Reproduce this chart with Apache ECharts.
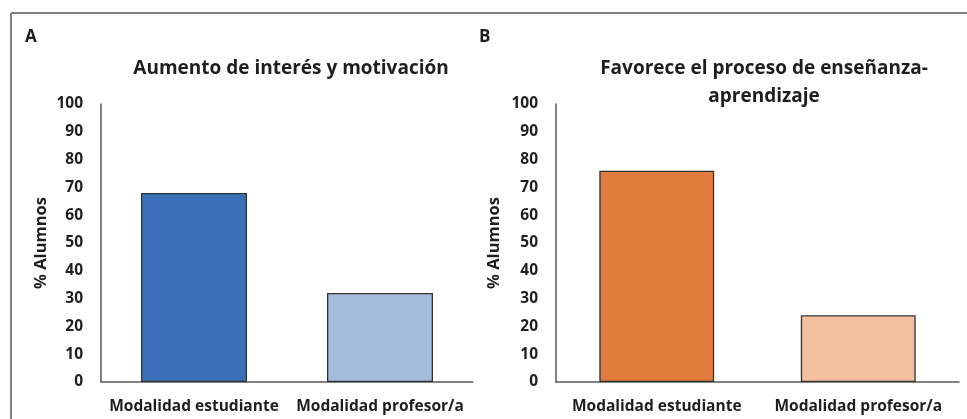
<!DOCTYPE html>
<html>
<head>
<meta charset="utf-8">
<script src="https://cdn.jsdelivr.net/npm/echarts@6/dist/echarts.min.js"></script>
<style>
html,body{margin:0;padding:0;background:#fff;}
#c{width:967px;height:419px;}
</style>
</head>
<body>
<div id="c"></div>
<script>
var categories = ['Modalidad estudiante', 'Modalidad profesor/a'];
var valuesA = [68, 32];
var valuesB = [76, 24];
var colorsA = ['#3a70b7', '#a4bddc'];
var colorsB = ['#e27c3e', '#f3c0a2'];
var titleA = 'Aumento de interés y motivación';
var titleB = 'Favorece el proceso de enseñanza-\naprendizaje';
var yName = '% Alumnos';

var FONT = 'Open Sans';
var TXT = '#1e1e1e';
var chart = echarts.init(document.getElementById('c'), null, {renderer: 'canvas'});

function yAxis(idx) {
  return {
    gridIndex: idx, type: 'value', min: 0, max: 100, interval: 10,
    name: yName, nameLocation: 'middle', nameRotate: 90, nameGap: idx === 0 ? 51 : 53,
    nameTextStyle: {fontFamily: FONT, fontWeight: 'bold', fontSize: 16.5, color: TXT},
    axisLine: {show: true, lineStyle: {color: '#595959', width: 1.5}},
    axisTick: {show: false},
    splitLine: {show: false},
    axisLabel: {fontFamily: FONT, fontWeight: 'bold', fontSize: 15.5, color: TXT, margin: 18}
  };
}
function xAxis(idx) {
  return {
    gridIndex: idx, type: 'category', data: categories,
    axisLine: {show: true, lineStyle: {color: '#595959', width: 1.5}},
    axisTick: {show: false},
    axisLabel: {fontFamily: FONT, fontWeight: 'bold', fontSize: 15.5, color: TXT, margin: 17, interval: 0}
  };
}
function seriesData(vals, cols) {
  return vals.map(function (v, i) {
    return {value: v, itemStyle: {color: cols[i]}};
  });
}

chart.setOption({
  animation: false,
  backgroundColor: '#fff',
  title: [
    {text: titleA, left: 286, top: 54, textAlign: 'center',
     textStyle: {fontFamily: FONT, fontWeight: 'bold', fontSize: 19, color: TXT}},
    {text: titleB, left: 759, top: 50, textAlign: 'center',
     textStyle: {fontFamily: FONT, fontWeight: 'bold', fontSize: 19, color: TXT, lineHeight: 28}}
  ],
  graphic: [
    {type: 'line', shape: {x1: 11, y1: 13, x2: 967, y2: 13}, style: {stroke: '#808080', lineWidth: 2}},
    {type: 'line', shape: {x1: 11, y1: 13, x2: 11, y2: 419}, style: {stroke: '#808080', lineWidth: 2}},
    {type: 'text', left: 25, top: 29, style: {text: 'A', font: 'bold 17px "Open Sans"', fill: TXT}},
    {type: 'text', left: 479, top: 29, style: {text: 'B', font: 'bold 17px "Open Sans"', fill: TXT}}
  ],
  grid: [
    {left: 101, right: 494, top: 104, bottom: 37},
    {left: 556, right: 8, top: 104, bottom: 37}
  ],
  xAxis: [xAxis(0), xAxis(1)],
  yAxis: [yAxis(0), yAxis(1)],
  series: [
    {type: 'bar', xAxisIndex: 0, yAxisIndex: 0, barWidth: '57%',
     itemStyle: {borderColor: '#333', borderWidth: 1.3},
     data: seriesData(valuesA, colorsA)},
    {type: 'bar', xAxisIndex: 1, yAxisIndex: 1, barWidth: '57%',
     itemStyle: {borderColor: '#333', borderWidth: 1.3},
     data: seriesData(valuesB, colorsB)}
  ]
});
</script>
</body>
</html>
